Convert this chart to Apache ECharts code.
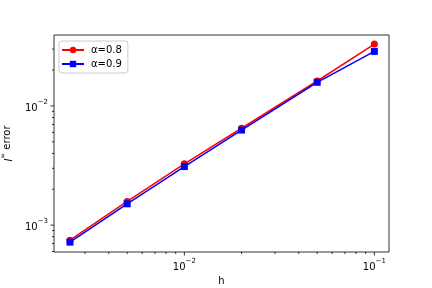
<!DOCTYPE html>
<html>
<head>
<meta charset="utf-8">
<script src="https://cdn.jsdelivr.net/npm/echarts@6/dist/echarts.min.js"></script>
<style>
  html, body { margin: 0; padding: 0; background: #fff; }
  #main { width: 432px; height: 288px; }
</style>
</head>
<body>
<div id="main"></div>
<script>
// step sizes and errors
const hValues = [0.0025, 0.005, 0.01, 0.02, 0.05, 0.1];
const err08 = [7.48e-4, 1.58e-3, 3.27e-3, 6.5e-3, 1.62e-2, 3.31e-2];
const err09 = [7.2e-4, 1.51e-3, 3.1e-3, 6.28e-3, 1.58e-2, 2.87e-2];
const seriesNames = ["α=0.8", "α=0.9"];

// axis ranges and tick positions (log scale)
const xRange = [0.00206, 0.1194];
const yRange = [5.95e-4, 0.0394];
const xTicks = [0.003, 0.004, 0.005, 0.006, 0.007, 0.008, 0.009, 0.01,
  0.02, 0.03, 0.04, 0.05, 0.06, 0.07, 0.08, 0.09, 0.1];
const yTicks = [6e-4, 7e-4, 8e-4, 9e-4, 1e-3, 2e-3, 3e-3, 4e-3, 5e-3,
  6e-3, 7e-3, 8e-3, 9e-3, 1e-2, 2e-2, 3e-2];

function isPow10(v) {
  const l = Math.log10(v);
  return Math.abs(l - Math.round(l)) < 1e-6;
}
function powLabel(v) {
  if (!isPow10(v)) return "";
  const e = Math.round(Math.log10(v));
  return "{b|10}{s|" + (e < 0 ? "\u2212" + -e : e) + "}";
}
const labelRich = {
  b: { fontSize: 10, color: "#000", fontFamily: "DejaVu Sans", lineHeight: 14, verticalAlign: "bottom" },
  s: { fontSize: 7, color: "#000", fontFamily: "DejaVu Sans", lineHeight: 14, verticalAlign: "top" }
};

var myChart = echarts.init(document.getElementById("main"));

function tickItem(axis) {
  return function (params, api) {
    const cs = params.coordSys;
    const v = api.value(axis === "x" ? 0 : 1);
    const len = isPow10(v) ? 3.5 : 2;
    const p = api.coord([api.value(0), api.value(1)]);
    let shape;
    if (axis === "x") {
      const y0 = cs.y + cs.height;
      shape = { x1: p[0], y1: y0, x2: p[0], y2: y0 + len };
    } else {
      shape = { x1: cs.x, y1: p[1], x2: cs.x - len, y2: p[1] };
    }
    return {
      type: "line",
      shape: shape,
      style: { stroke: "#000", lineWidth: 0.8 }
    };
  };
}

var option = {
  animation: false,
  grid: {
    left: 54, right: 43, top: 35, bottom: 36,
    containLabel: false, outerBoundsMode: "none",
    show: true, borderColor: "#000", borderWidth: 0.8
  },
  legend: {
    data: seriesNames,
    orient: "vertical",
    left: 59, top: 41,
    itemWidth: 22, itemHeight: 8, itemGap: 4,
    padding: [4, 6, 4, 2],
    borderColor: "#ccc", borderWidth: 1, borderRadius: 3,
    backgroundColor: "rgba(255,255,255,0.8)",
    textStyle: { fontFamily: "DejaVu Sans", fontSize: 10, color: "#000", padding: [0, 0, 0, 2] }
  },
  xAxis: {
    type: "log", logBase: 10,
    min: xRange[0], max: xRange[1],
    name: "h", nameLocation: "middle", nameGap: 24,
    nameTextStyle: { fontFamily: "DejaVu Sans", fontSize: 10, color: "#000" },
    axisLine: { show: false },
    axisTick: { show: false },
    splitLine: { show: false },
    axisLabel: { formatter: powLabel, rich: labelRich, margin: 6, showMinLabel: false, showMaxLabel: false }
  },
  yAxis: {
    type: "log", logBase: 10,
    min: yRange[0], max: yRange[1],
    name: "{i|l}{sup|\u221e} error", nameLocation: "middle", nameGap: 34,
    nameTextStyle: {
      fontFamily: "DejaVu Sans", fontSize: 10, color: "#000",
      rich: {
        i: { fontSize: 10, fontStyle: "italic", fontFamily: "DejaVu Sans", color: "#000", lineHeight: 14, verticalAlign: "bottom" },
        sup: { fontSize: 7, fontFamily: "DejaVu Sans", color: "#000", lineHeight: 14, verticalAlign: "top" }
      }
    },
    axisLine: { show: false },
    axisTick: { show: false },
    splitLine: { show: false },
    axisLabel: { formatter: powLabel, rich: labelRich, margin: 6, showMinLabel: false, showMaxLabel: false }
  },
  series: [
    {
      name: seriesNames[0], type: "line",
      data: hValues.map((h, i) => [h, err08[i]]),
      symbol: "circle", symbolSize: 7,
      lineStyle: { color: "#ff0000", width: 1.5 },
      itemStyle: { color: "#ff0000" }
    },
    {
      name: seriesNames[1], type: "line",
      data: hValues.map((h, i) => [h, err09[i]]),
      symbol: "rect", symbolSize: 7,
      lineStyle: { color: "#0000ff", width: 1.5 },
      itemStyle: { color: "#0000ff" }
    },
    {
      type: "custom", clip: false, silent: true,
      renderItem: tickItem("x"),
      data: xTicks.map((v) => [v, yRange[0]])
    },
    {
      type: "custom", clip: false, silent: true,
      renderItem: tickItem("y"),
      data: yTicks.map((v) => [xRange[0], v])
    }
  ]
};

myChart.setOption(option);
</script>
</body>
</html>
